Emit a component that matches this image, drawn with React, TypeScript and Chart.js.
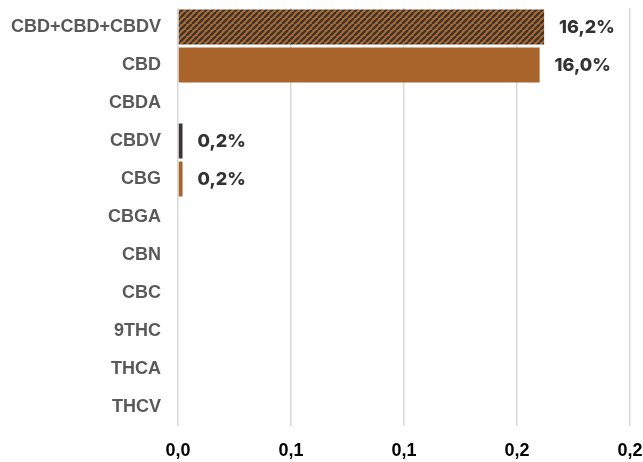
import React, { useEffect, useRef } from 'react';
import { Chart, registerables } from 'chart.js';

Chart.register(...registerables);

const categories = ['CBD+CBD+CBDV', 'CBD', 'CBDA', 'CBDV', 'CBG', 'CBGA', 'CBN', 'CBC', '9THC', 'THCA', 'THCV'];
const values = [0.162, 0.16, 0, 0.002, 0.002, 0, 0, 0, 0, 0, 0];
const xTicks = [0, 0.05, 0.1, 0.15, 0.2];
const xTickLabels = ['0,0', '0,1', '0,1', '0,2', '0,2'];

const ORANGE = '#a8642a';
const DARK = '#3a3535';

function makeHatch(): CanvasPattern | string {
  const s = 6;
  const c = document.createElement('canvas');
  c.width = s;
  c.height = s;
  const ctx = c.getContext('2d');
  if (!ctx) return ORANGE;
  ctx.fillStyle = '#b36c2a';
  ctx.fillRect(0, 0, s, s);
  ctx.strokeStyle = DARK;
  ctx.lineWidth = 2.4;
  ctx.beginPath();
  for (const k of [-s, 0, s]) {
    ctx.moveTo(k, s);
    ctx.lineTo(k + s, 0);
  }
  ctx.stroke();
  const p = ctx.createPattern(c, 'repeat');
  return p || ORANGE;
}

const labelPlugin = {
  id: 'barValueLabels',
  afterDatasetsDraw(chart: any) {
    const ctx = chart.ctx;
    const meta = chart.getDatasetMeta(0);
    ctx.save();
    ctx.font = '800 18px Inter, "Noto Sans", sans-serif';
    ctx.fillStyle = '#333333';
    ctx.textBaseline = 'middle';
    ctx.textAlign = 'left';
    meta.data.forEach((bar: any, i: number) => {
      const v = values[i];
      if (!v) return;
      const txt = (v * 100).toFixed(1).replace('.', ',') + '%';
      ctx.fillText(txt, bar.x + 15, bar.y + 1);
    });
    ctx.restore();
  },
};

export default function App() {
  const ref = useRef<HTMLCanvasElement | null>(null);

  useEffect(() => {
    document.body.style.margin = '0';
    const canvas = ref.current;
    if (!canvas) return;
    const hatch = makeHatch();
    const chart = new Chart(canvas, {
      type: 'bar',
      data: {
        labels: categories,
        datasets: [
          {
            data: values,
            backgroundColor: (ctx: any) => {
              const lbl = categories[ctx.dataIndex];
              if (lbl === 'CBD+CBD+CBDV') return hatch as any;
              if (lbl === 'CBDV') return DARK;
              return ORANGE;
            },
            borderWidth: 0,
            barPercentage: 0.92,
            categoryPercentage: 1,
          },
        ],
      },
      options: {
        indexAxis: 'y',
        animation: false,
        responsive: false,
        layout: { padding: { top: 8, right: 13, left: 0, bottom: 0 } },
        plugins: {
          legend: { display: false },
          tooltip: { enabled: false },
          title: { display: false },
        },
        scales: {
          x: {
            min: 0,
            max: 0.2,
            afterBuildTicks: (scale: any) => {
              scale.ticks = xTicks.map((v) => ({ value: v }));
            },
            afterFit: (scale: any) => {
              scale.height = 36;
              scale.paddingLeft = 0;
              scale.paddingRight = 0;
            },
            grid: { color: '#d9d9d9', lineWidth: 1.5, drawTicks: false },
            border: { display: false },
            ticks: {
              padding: 14,
              color: '#000000',
              font: { family: '"Liberation Sans", Arial, sans-serif', weight: 'bold', size: 18 },
              callback: (_v: any, idx: number) => xTickLabels[idx],
              maxRotation: 0,
            },
          },
          y: {
            afterFit: (scale: any) => {
              scale.width = 178;
              scale.paddingTop = 0;
              scale.paddingBottom = 0;
            },
            grid: { display: false, drawTicks: false },
            border: { display: false },
            ticks: {
              padding: 17,
              color: '#595959',
              font: { family: '"Liberation Sans", Arial, sans-serif', weight: 'bold', size: 18 },
              autoSkip: false,
            },
          },
        },
      },
      plugins: [labelPlugin],
    });
    return () => chart.destroy();
  }, []);

  return (
    <div style={{ width: 643, height: 462 }}>
      <canvas ref={ref} width={643} height={462} style={{ display: 'block' }} />
    </div>
  );
}
